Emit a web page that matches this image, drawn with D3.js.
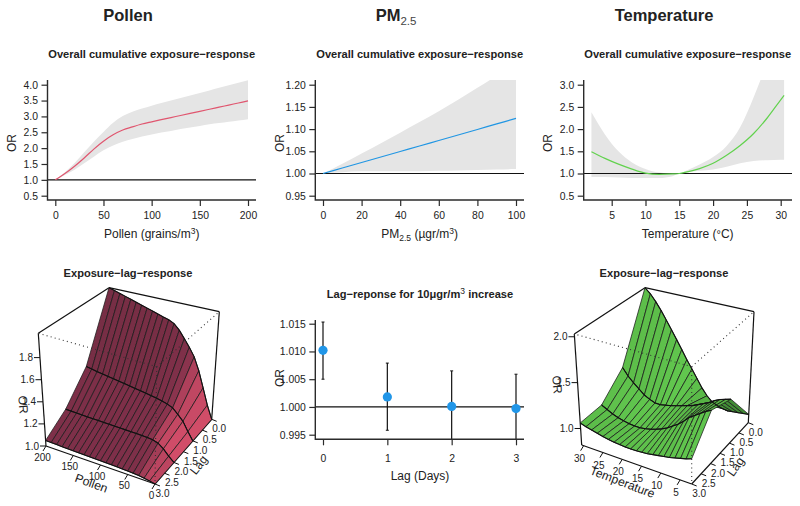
<!DOCTYPE html>
<html><head><meta charset="utf-8">
<script src="https://cdn.jsdelivr.net/npm/d3@7"></script>
<style>
html,body{margin:0;padding:0;background:#fff}
svg{display:block}
text{font-family:"Liberation Sans",Arial,sans-serif;fill:#222}
</style></head><body>
<svg id="c" width="800" height="506"></svg>
<script>
// ---------- data ----------
const pollenX=[0,10,20,30,40,50,60,70,80,90,100,110,120,130,140,150,160,170,180,190,200];
const pollenFit=[1.0,1.2,1.43,1.69,1.97,2.22,2.42,2.57,2.67,2.76,2.83,2.897,2.963,3.03,3.096,3.16,3.226,3.292,3.358,3.424,3.49];
const pollenHi=[1.0,1.24,1.53,1.87,2.2,2.51,2.8,3.01,3.15,3.25,3.34,3.42,3.5,3.58,3.66,3.74,3.82,3.9,3.98,4.06,4.14];
const pollenLo=[1.0,1.15,1.32,1.52,1.73,1.93,2.08,2.2,2.29,2.37,2.43,2.49,2.54,2.6,2.65,2.7,2.75,2.79,2.83,2.87,2.91];
const pollenTicksX=[0,50,100,150,200];
const pollenTicksY=[0.5,1,1.5,2,2.5,3,3.5,4];

const pmX=[0,10,20,30,40,50,60,70,80,90,100];
const pmFit=[1.0,1.0124,1.0248,1.0372,1.0496,1.062,1.0744,1.0868,1.0992,1.1116,1.124];
const pmHi=[1.0,1.022,1.045,1.068,1.092,1.116,1.14,1.166,1.193,1.22,1.247];
const pmLo=[1.0,1.003,1.005,1.005,1.005,1.005,1.006,1.007,1.008,1.009,1.01];
const pmTicksX=[0,20,40,60,80,100];
const pmTicksY=[0.95,1,1.05,1.1,1.15,1.2];

const tempX=[2,4,6,8,10,12,14,15,16,18,20,22,24,26,28,30,30.5];
const tempFit=[1.49,1.34,1.21,1.1,1.01,0.98,0.99,1.0,1.03,1.11,1.23,1.41,1.63,1.9,2.25,2.66,2.76];
const tempHi=[2.38,1.88,1.5,1.25,1.1,1.02,1.0,1.0,1.06,1.2,1.37,1.62,2.04,2.72,3.5,4.3,4.5];
const tempLo=[0.92,0.92,0.91,0.9,0.9,0.9,0.94,1.0,1.02,1.06,1.09,1.15,1.23,1.28,1.3,1.31,1.31];
const tempTicksX=[5,10,15,20,25,30];
const tempTicksY=[0.5,1,1.5,2,2.5,3];

const lagDays=[0,1,2,3];
const lagFit=[1.0102,1.0018,1.0001,0.9997];
const lagHi=[1.0153,1.0079,1.0065,1.0059];
const lagLo=[1.0050,0.9958,0.9940,0.9940];
const lagTicksY=[0.995,1,1.005,1.01,1.015];

const surfLag=[0,1,2,3];
const surfPollen=pollenX;
const surfPollenOR=[
 [1.0,1.12,1.27,1.42,1.54,1.62,1.69,1.76,1.81,1.835,1.85,1.867,1.884,1.901,1.918,1.935,1.952,1.969,1.986,2.003,2.02],
 [1.0,1.07,1.15,1.2,1.245,1.265,1.28,1.29,1.30,1.308,1.316,1.324,1.332,1.34,1.348,1.356,1.364,1.372,1.38,1.39,1.40],
 [1.0,1.04,1.09,1.125,1.14,1.145,1.147,1.149,1.15,1.151,1.152,1.153,1.154,1.155,1.156,1.157,1.158,1.16,1.161,1.163,1.165],
 [1.0,1.01,1.018,1.024,1.028,1.03,1.032,1.034,1.035,1.036,1.037,1.038,1.039,1.04,1.041,1.042,1.044,1.045,1.047,1.048,1.05]
];
const surfTemp=[2,3.425,4.85,6.275,7.7,9.125,10.55,11.975,13.4,14.825,16.25,17.675,19.1,20.525,21.95,23.375,24.8,26.225,27.65,29.075,30.5];
const surfTempOR=[
 [0.91,0.90,0.89,0.88,0.87,0.875,0.89,0.91,0.96,1.03,1.12,1.21,1.30,1.40,1.50,1.60,1.70,1.80,1.89,1.97,2.03],
 [1.29,1.27,1.25,1.22,1.18,1.15,1.12,1.09,1.07,1.05,1.03,1.01,0.995,0.98,0.98,1.0,1.03,1.08,1.13,1.19,1.27],
 [1.38,1.35,1.31,1.27,1.23,1.17,1.12,1.08,1.04,1.01,0.985,0.965,0.95,0.94,0.94,0.945,0.955,0.97,0.99,1.02,1.05],
 [1.08,1.06,1.045,1.03,1.015,1.005,0.995,0.985,0.975,0.97,0.965,0.965,0.965,0.97,0.975,0.985,0.995,1.01,1.025,1.04,1.06]
];
const surfPollenTicks=[0,50,100,150,200];
const surfTempTicks=[5,10,15,20,25,30];
const surfLagTicks=[0,0.5,1,1.5,2,2.5,3];
const surfPollenZTicks=[1,1.2,1.4,1.6,1.8];
const surfTempZTicks=[1,1.5,2];

// ---------- helpers ----------
const svg=d3.select("#c");
const INK="#2b2b2b";
const fmt1=d3.format(".1f"), fmt2=d3.format(".2f"), fmt3=d3.format(".3f");
let clipN=0;

function txt(x,y,s,o={}){
  const t=svg.append("text").attr("x",x).attr("y",y).attr("text-anchor",o.anchor||"middle")
    .attr("font-size",o.size||11).attr("font-weight",o.bold?"bold":"normal").text(s);
  if(o.rot!==undefined) t.attr("transform",`rotate(${o.rot},${x},${y})`);
  return t;
}
function supTxt(x,y,parts,o={}){
  const t=txt(x,y,"",o);
  parts.forEach(p=>{
    const ts=t.append("tspan").text(p.s);
    if(p.dy) ts.attr("dy",p.dy);
    if(p.size) ts.attr("font-size",p.size);
    if(p.normal) ts.attr("font-weight","normal");
    if(p.fill) ts.attr("fill",p.fill);
  });
  return t;
}

function frame(x,y,left,right,top,bottom,xt,yt,yf,xf,pad){
  svg.append("g").attr("transform",`translate(${left},0)`)
    .call(d3.axisLeft(y).tickValues(yt).tickSize(6).tickPadding(3.5).tickFormat(yf))
    .call(g=>g.select(".domain").remove())
    .call(g=>g.selectAll("line").attr("stroke",INK).attr("stroke-width",1.2))
    .call(g=>g.selectAll("text").attr("font-size",10.4).style("font-family",'"Liberation Sans"'));
  svg.append("g").attr("transform",`translate(0,${bottom})`)
    .call(d3.axisBottom(x).tickValues(xt).tickSize(6).tickPadding(pad).tickFormat(xf))
    .call(g=>g.select(".domain").remove())
    .call(g=>g.selectAll("line").attr("stroke",INK).attr("stroke-width",1.2))
    .call(g=>g.selectAll("text").attr("font-size",10.4).style("font-family",'"Liberation Sans"'));
  svg.append("path").attr("d",`M${left},${top}V${bottom}H${right}`).attr("fill","none").attr("stroke",INK).attr("stroke-width",1.4);
}

function curvePanel(cfg){
  const x=d3.scaleLinear().domain(cfg.xd).range(cfg.xr);
  const y=d3.scaleLinear().domain(cfg.yd).range([195.7,84.7]);
  const id="clip"+(clipN++);
  svg.append("clipPath").attr("id",id).append("rect").attr("x",cfg.left).attr("y",80).attr("width",cfg.right-cfg.left).attr("height",120);
  const g=svg.append("g").attr("clip-path",`url(#${id})`);
  const idx=d3.range(cfg.xs.length);
  g.append("path").attr("fill","#e5e5e5")
    .attr("d",d3.area().x(i=>x(cfg.xs[i])).y0(i=>y(cfg.lo[i])).y1(i=>y(cfg.hi[i])).curve(d3.curveMonotoneX)(idx));
  g.append("line").attr("x1",cfg.left).attr("x2",cfg.right).attr("y1",y(1)).attr("y2",y(1)).attr("stroke","#111").attr("stroke-width",1.2);
  g.append("path").attr("fill","none").attr("stroke",cfg.color).attr("stroke-width",1.2)
    .attr("d",d3.line().x(i=>x(cfg.xs[i])).y(i=>y(cfg.fit[i])).curve(d3.curveMonotoneX)(idx));
  frame(x,y,cfg.left,cfg.right,80,200,cfg.xt,cfg.yt,cfg.yf,d3.format("d"),6);
}

function surface(cfg){
  const X=d3.scaleLinear().domain(cfg.xd).range([0,1]);
  const Y=d3.scaleLinear().domain([0,3]).range([0,1]);
  const Z=d3.scaleLinear().domain(cfg.zd).range([0,1]);
  const P=(a,b,c)=>{
    const u=X(a),v=Y(b),w=Z(c),C=cfg.corners;
    const bl=(k)=>{
      const b0=(1-u)*((1-v)*C.l0[k]+v*C.f0[k])+u*((1-v)*C.r0[k]+v*C.ff0[k]);
      const t0=(1-u)*((1-v)*C.l1[k]+v*C.f1[k])+u*((1-v)*C.r1[k]+v*C.ff1[k]);
      return (1-w)*b0+w*t0;
    };
    return [bl(0),bl(1)];
  };
  const [xa,xb]=cfg.xd,[za,zb]=cfg.zd;
  const seg=(p,q,o)=>{
    const l=svg.append("line").attr("x1",p[0]).attr("y1",p[1]).attr("x2",q[0]).attr("y2",q[1])
      .attr("stroke",o.stroke||"#111").attr("stroke-width",o.w||1.2);
    if(o.dash) l.attr("stroke-dasharray",o.dash);
    return l;
  };
  // back box edges
  [[[xa,0,zb],[xb,0,zb]],[[xb,0,zb],[xb,3,zb]],[[xa,0,zb],[xa,0,za]],[[xb,3,zb],[xb,3,za]],
   [[xb,3,za],[xa,3,za]],[[xa,3,za],[xa,0,za]]].forEach(e=>seg(P(...e[0]),P(...e[1]),{}));
  // facets: back to front
  const fill=d3.scaleLinear().domain(cfg.shadeDomain).range(cfg.shadeRange).clamp(true);
  const xs=cfg.xs, ys=cfg.ys, O=cfg.or;
  const line=d3.line();
  for(let j=0;j<ys.length-1;j++){
    for(let i=xs.length-2;i>=0;i--){
      const q=[[xs[i],ys[j],O[j][i]],[xs[i+1],ys[j],O[j][i+1]],[xs[i+1],ys[j+1],O[j+1][i+1]],[xs[i],ys[j+1],O[j+1][i]]];
      const dzdx=((Z(O[j][i+1])+Z(O[j+1][i+1]))-(Z(O[j][i])+Z(O[j+1][i])))/2/(X(xs[i+1])-X(xs[i]));
      const dzdy=((Z(O[j+1][i])+Z(O[j+1][i+1]))-(Z(O[j][i])+Z(O[j][i+1])))/2/(Y(ys[j+1])-Y(ys[j]));
      const n=Math.hypot(dzdx,dzdy,1);
      const L=cfg.light, ll=Math.hypot(...L);
      const sh=(-dzdx*L[0]-dzdy*L[1]+L[2])/(n*ll);
      svg.append("path").attr("d",line(q.map(p=>P(...p)))+"Z").attr("fill",fill(sh)).attr("stroke","#1a1a1a").attr("stroke-width",0.75).attr("stroke-linejoin","round");
    }
  }
  // thicker lag-constant lines
  ys.forEach((l,j)=>{
    svg.append("path").attr("fill","none").attr("stroke","#111").attr("stroke-width",1.1)
      .attr("d",line(xs.map((v,i)=>P(v,l,O[j][i]))));
  });
  // front dotted edges
  [[[xa,3,zb],[xb,3,zb]],[[xa,3,zb],[xa,0,zb]],[[xa,3,zb],[xa,3,za]]].forEach(e=>seg(P(...e[0]),P(...e[1]),{stroke:"#333",w:1.1,dash:"1 3.2"}));
  // ticks
  cfg.xTicks.forEach(v=>{
    const p=P(v,3,za);
    seg(p,[p[0]-3,p[1]+5],{w:1});
    txt(p[0]+cfg.xLab[0],p[1]+cfg.xLab[1],String(v),{size:10});
  });
  surfLagTicks.forEach(v=>{
    const p=P(xa,v,za);
    seg(p,[p[0]+5,p[1]+2],{w:1});
    txt(p[0]+cfg.lagLab[0],p[1]+cfg.lagLab[1],fmt1(v),{size:10});
  });
  cfg.zTicks.forEach(v=>{
    const p=P(xb,3,v);
    seg(p,[p[0]-6,p[1]],{w:1});
    txt(p[0]-7,p[1]+cfg.zLabDy,fmt1(v),{size:10,anchor:"end"});
  });
  txt(cfg.xTitle.x,cfg.xTitle.y,cfg.xTitle.s,{size:12.2,rot:cfg.xTitle.r});
  txt(cfg.lagTitle.x,cfg.lagTitle.y,"Lag",{size:12.2,rot:cfg.lagTitle.r});
  txt(cfg.zTitle.x,cfg.zTitle.y,"OR",{size:12.2,rot:cfg.zTitle.r});
}

// ---------- headers ----------
txt(128,21,"Pollen",{size:16.5,bold:true});
supTxt(396,21,[{s:"PM"},{s:"2.5",dy:4,size:11.5,normal:true,fill:"#444"}],{size:16.5,bold:true});
txt(664,21,"Temperature",{size:16.5,bold:true});

const SUB="Overall cumulative exposure\u2212response";
[151.7,419.7,687.7].forEach(c=>txt(c,58,SUB,{size:11.1,bold:true}));
[128,664].forEach(c=>txt(c,277,"Exposure\u2212lag\u2212response",{size:11.1,bold:true}));

// ---------- top panels ----------
curvePanel({xs:pollenX,fit:pollenFit,hi:pollenHi,lo:pollenLo,xd:[0,200],xr:[55.3,248],yd:[0.5,4],left:47.5,right:256,xt:pollenTicksX,yt:pollenTicksY,yf:fmt1,color:"#e0566f"});
curvePanel({xs:pmX,fit:pmFit,hi:pmHi,lo:pmLo,xd:[0,100],xr:[323,516],yd:[0.95,1.2],left:315.3,right:524,xt:pmTicksX,yt:pmTicksY,yf:fmt2,color:"#2196e3"});
curvePanel({xs:tempX,fit:tempFit,hi:tempHi,lo:tempLo,xd:[5,30],xr:[611.7,780.7],yd:[0.5,3],left:583.7,right:792,xt:tempTicksX,yt:tempTicksY,yf:fmt1,color:"#62d24e"});

supTxt(151.7,238,[{s:"Pollen (grains/m"},{s:"3",dy:-4,size:8.5},{s:")",dy:4}],{size:12});
supTxt(419.7,238,[{s:"PM"},{s:"2.5",dy:3,size:8.5},{s:" (\u00b5gr/m",dy:-3},{s:"3",dy:-4,size:8.5},{s:")",dy:4}],{size:12});
supTxt(687.7,238,[{s:"Temperature ("},{s:"\u00b0",size:11},{s:"C)"}],{size:12});
txt(16,143,"OR",{size:12,rot:-90});
txt(284,143,"OR",{size:12,rot:-90});
txt(552,143,"OR",{size:12,rot:-90});

// ---------- lag panel ----------
(function(){
  const x=d3.scaleLinear().domain([0,3]).range([323,516]);
  const y=d3.scaleLinear().domain([0.995,1.015]).range([434.7,323.7]);
  const base=y.range()[0]+4.6;
  svg.append("line").attr("x1",315.3).attr("x2",524).attr("y1",y(1)).attr("y2",y(1)).attr("stroke","#111").attr("stroke-width",1.2);
  lagDays.forEach((d,i)=>{
    const yl=Math.min(y(lagLo[i]),base);
    svg.append("line").attr("x1",x(d)).attr("x2",x(d)).attr("y1",y(lagHi[i])).attr("y2",yl).attr("stroke","#111").attr("stroke-width",1.2);
    svg.append("line").attr("x1",x(d)-1.5).attr("x2",x(d)+1.5).attr("y1",y(lagHi[i])).attr("y2",y(lagHi[i])).attr("stroke","#111").attr("stroke-width",1);
    if(yl<base) svg.append("line").attr("x1",x(d)-1.5).attr("x2",x(d)+1.5).attr("y1",yl).attr("y2",yl).attr("stroke","#111").attr("stroke-width",1);
  });
  svg.selectAll("circle.lag").data(lagDays).join("circle").attr("class","lag").attr("cx",d=>x(d)).attr("cy",(d,i)=>y(lagFit[i])).attr("r",4.6).attr("fill","#2196e8");
  frame(x,y,315.3,524,320,base,lagDays,lagTicksY,fmt3,d3.format("d"),9);
  supTxt(420,298,[{s:"Lag\u2212reponse for 10\u03bcgr/m"},{s:"3",dy:-4,size:8.5,normal:true},{s:" increase",dy:4}],{size:11.1,bold:true});
  txt(420,480,"Lag (Days)",{size:12});
  txt(284,378,"OR",{size:12,rot:-90});
})();

// ---------- 3D surfaces ----------
surface({
  xs:surfPollen,ys:surfLag,or:surfPollenOR,xd:[0,200],zd:[1,2.02],xTicks:surfPollenTicks,zTicks:surfPollenZTicks,
  corners:{ // pixel frame of the box: x-low/x-high, lag-low/lag-high, z-low/z-high
    l0:[211.7,419.3],l1:[219.3,311.7],f0:[155,484],f1:[156.7,366.7],
    r0:[107.3,388.3],r1:[109,287.7],ff0:[46,446],ff1:[38.3,333.3]
  },
  light:[-0.75,-0.3,0.55],shadeDomain:[-0.6,0.55,1],shadeRange:["#6a2a3c","#80304a","#e0526e"],
  xLab:[-3.5,14.5],lagLab:[7.5,13],zLabDy:3.5,
  xTitle:{x:90,y:487,s:"Pollen",r:20},lagTitle:{x:202,y:467.5,r:-52},zTitle:{x:19,y:405,r:85}
});
surface({
  xs:surfTemp,ys:surfLag,or:surfTempOR,xd:[2,30.5],zd:[0.82,2.03],xTicks:surfTempTicks,zTicks:surfTempZTicks,
  corners:{
    l0:[748.3,422.7],l1:[754,311.7],f0:[691.7,484],f1:[691.7,366.7],
    r0:[644,386],r1:[645,287.7],ff0:[581.7,445],ff1:[574.3,334]
  },
  light:[-0.1,0.5,0.8],shadeDomain:[0.1,0.6,0.95],shadeRange:["#3a7f30","#55b043","#62c84f"],
  xLab:[-4,16],lagLab:[7.5,13],zLabDy:3.5,
  xTitle:{x:621,y:486,s:"Temperature",r:21},lagTitle:{x:739,y:469,r:-55},zTitle:{x:553,y:385,r:85}
});
</script></body></html>
